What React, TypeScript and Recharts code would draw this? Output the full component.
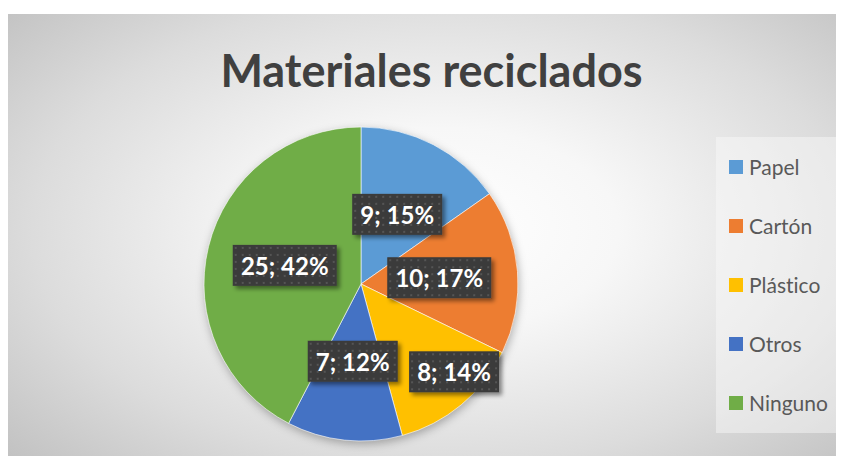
import React from "react";
import { PieChart, Pie, Cell, Legend } from "recharts";

const categories = ["Papel", "Cartón", "Plástico", "Otros", "Ninguno"];
const values = [9, 10, 8, 7, 25];
const colors = ["#5B9BD5", "#ED7D31", "#FFC000", "#4472C4", "#70AD47"];
const title = "Materiales reciclados";

// label layout tweaks (radius as fraction of pie radius, angle shift in degrees), "best fit" like
const labelLayout = [
  { r: 0.5, da: 0 },
  { r: 0.5, da: 0 },
  { r: 0.815, da: 7 },
  { r: 0.495, da: 0 },
  { r: 0.5, da: 0 },
];

const data = categories.map((name, i) => ({ name, value: values[i] }));

const FONT = "Lato, 'Open Sans', sans-serif";
const RAD = Math.PI / 180;

const renderLabel = (props: any) => {
  const { cx, cy, midAngle, outerRadius, index, value, percent } = props;
  const lay = labelLayout[index] || { r: 0.5, da: 0 };
  const ang = midAngle + lay.da;
  const r = outerRadius * lay.r;
  const x = cx + r * Math.cos(-ang * RAD);
  const y = cy + r * Math.sin(-ang * RAD);
  const text = `${value}; ${Math.round(percent * 100)}%`;
  const w = text.length * 14 + 6;
  const h = 41;
  const pid = `dots-${index}`;
  const fid = `shadow-${index}`;
  return (
    <g key={`lbl-${index}`}>
      <defs>
        <pattern id={pid} x={x - w / 2} y={y - h / 2} width={7} height={7} patternUnits="userSpaceOnUse">
          <rect width={7} height={7} fill="#3b3b3b" />
          <rect x={2} y={2} width={2} height={2} fill="#555555" />
        </pattern>
        <filter id={fid} x="-20%" y="-30%" width="150%" height="170%">
          <feDropShadow dx={3} dy={3} stdDeviation={2.2} floodColor="#000" floodOpacity={0.45} />
        </filter>
      </defs>
      <rect x={x - w / 2} y={y - h / 2} width={w} height={h} fill={`url(#${pid})`} filter={`url(#${fid})`} />
      <text
        x={x}
        y={y}
        textAnchor="middle"
        dominantBaseline="central"
        fill="#ffffff"
        fontFamily={FONT}
        fontWeight={700}
        fontSize={24}
      >
        {text}
      </text>
    </g>
  );
};

const renderLegend = () => (
  <div
    style={{
      width: 126,
      height: 296,
      background: "rgba(250,250,250,0.45)",
      boxSizing: "border-box",
    }}
  >
    {categories.map((c, i) => (
      <div
        key={c}
        style={{
          height: 59,
          display: "flex",
          alignItems: "center",
          paddingLeft: 13,
          fontFamily: FONT,
          fontSize: 21,
          color: "#595959",
          fontVariantLigatures: "none",
        }}
      >
        <span
          style={{
            display: "inline-block",
            width: 14,
            height: 14,
            background: colors[i],
            marginRight: 6,
          }}
        />
        <span>{c}</span>
      </div>
    ))}
  </div>
);

export default function App() {
  return (
    <div
      style={{
        position: "relative",
        left: -1,
        top: 6,
        width: 837,
        height: 448,
        background:
          "radial-gradient(ellipse 70% 75% at 52% 48%, #ffffff 0%, #f7f7f7 30%, #dcdcdc 70%, #c2c2c2 100%)",
        overflow: "hidden",
      }}
    >
      <style>{`.pie-shadow .recharts-layer.recharts-pie { filter: drop-shadow(1px 3px 4px rgba(0,0,0,0.28)); }`}</style>
      <div
        style={{
          position: "absolute",
          left: 0,
          width: 849,
          top: 30,
          textAlign: "center",
          fontFamily: FONT,
          fontWeight: 700,
          fontSize: 45,
          color: "#404040",
          lineHeight: "52px",
        }}
      >
        {title}
      </div>
      <div className="pie-shadow" style={{ position: "absolute", left: 0, top: 0 }}>
        <PieChart width={837} height={448} margin={{ top: 0, right: 0, bottom: 0, left: 0 }}>
          <Pie
            data={data}
            dataKey="value"
            nameKey="name"
            cx={354}
            cy={270}
            outerRadius={157}
            startAngle={90}
            endAngle={-270}
            stroke="#ffffff"
            strokeWidth={0.6}
            label={renderLabel}
            labelLine={false}
            isAnimationActive={false}
          >
            {data.map((d, i) => (
              <Cell key={d.name} fill={colors[i]} />
            ))}
          </Pie>
          <Legend
            content={renderLegend}
            wrapperStyle={{ left: 709, top: 123, width: 126, height: 296 }}
          />
        </PieChart>
      </div>
    </div>
  );
}
